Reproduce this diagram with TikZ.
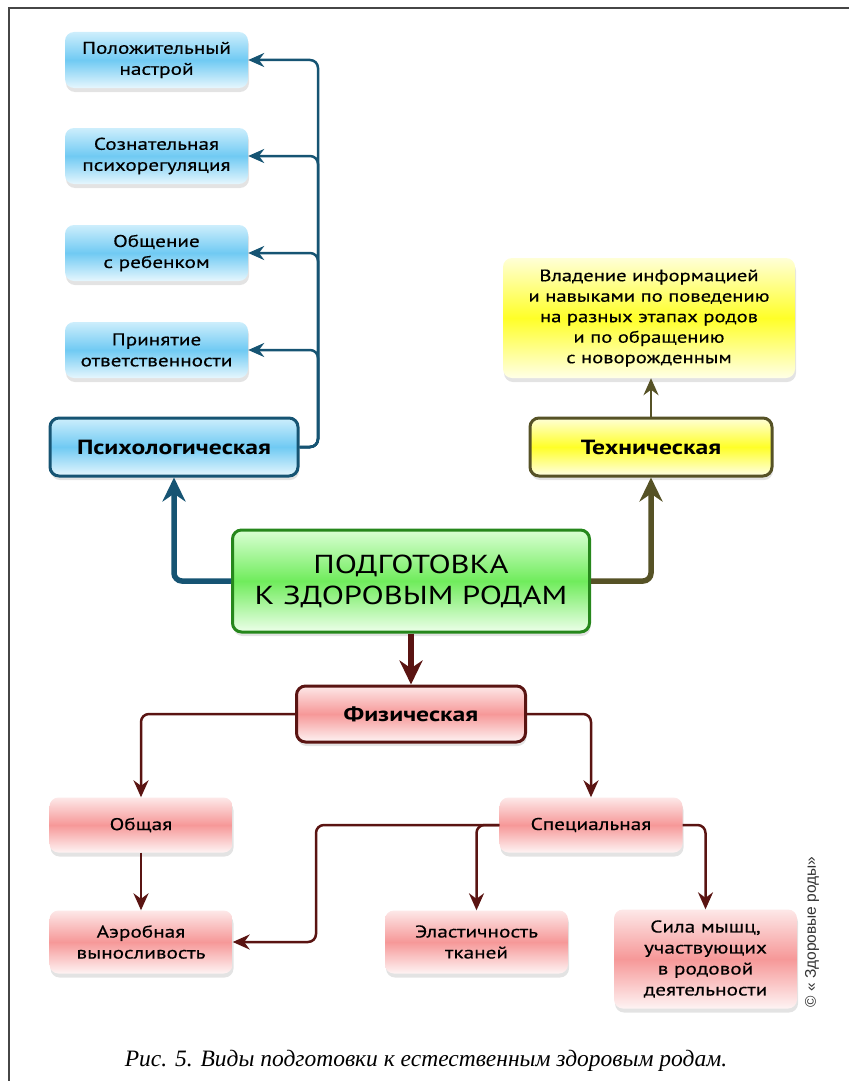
\documentclass[tikz,border=0pt]{standalone}
\usepackage{fontspec}
\setmainfont{Liberation Serif}
\newfontfamily\boxfont{PT Sans}[FakeStretch=1.25, FakeBold=0.4]
\newfontfamily\headfont{PT Sans}[FakeStretch=1.25]
\newfontfamily\signfont{Liberation Sans}
\usetikzlibrary{arrows.meta, shadows}
\definecolor{psyline}{RGB}{22,84,115}
\definecolor{psytop}{RGB}{205,238,252}
\definecolor{psymid}{RGB}{112,202,243}
\definecolor{techline}{RGB}{86,82,38}
\definecolor{techtop}{RGB}{255,255,215}
\definecolor{techmid}{RGB}{255,255,40}
\definecolor{mainline}{RGB}{38,135,28}
\definecolor{maintop}{RGB}{218,255,212}
\definecolor{mainmid}{RGB}{112,236,92}
\definecolor{physline}{RGB}{90,20,18}
\definecolor{phystop}{RGB}{253,232,232}
\definecolor{physmid}{RGB}{246,152,152}
\definecolor{framegray}{RGB}{70,70,70}
\tikzstyle{item} = [rectangle, rounded corners=9pt, align=center, inner sep=0pt,
  font=\boxfont\fontsize{17}{21}\selectfont,
  drop shadow={opacity=0.22, shadow xshift=1pt, shadow yshift=-4pt}]
\tikzstyle{psyitem} = [item, top color=psytop, bottom color=psytop!50!white, middle color=psymid,
  minimum width=183pt, minimum height=56pt]
\tikzstyle{physitem} = [item, top color=phystop, bottom color=phystop!50!white, middle color=physmid,
  minimum width=183pt]
\tikzstyle{head} = [item, line width=3pt, font=\headfont\bfseries\fontsize{20.5}{24}\selectfont,
  minimum height=58pt]
\tikzstyle{psyarrow} = [line width=2.5pt, ->, >={Stealth[length=16pt, width=14pt]},
  rounded corners=8pt, draw=psyline]
\tikzstyle{physarrow} = [line width=2.5pt, ->, >={Stealth[length=17pt, width=15pt]},
  rounded corners=8pt, draw=physline]
\tikzstyle{thickarrow} = [line width=5.5pt, ->, >={Stealth[length=24pt, width=23pt]},
  rounded corners=8pt]

\begin{document}
\begin{tikzpicture}[x=1pt, y=-1pt]
  \useasboundingbox (0,0) rectangle (849,1081);
  \draw[line width=1.5pt, framegray] (9,1081) -- (9,8) -- (849,8);
  % Draw nodes
  \node (p1)[psyitem] at (156.5,60) {Положительный\\настрой};
  \node (p2)[psyitem] at (156.5,156) {Сознательная\\психорегуляция};
  \node (p3)[psyitem] at (156.5,253) {Общение\\с ребенком};
  \node (p4)[psyitem] at (156.5,350) {Принятие\\ответственности};
  \node (psy)[head, draw=psyline, top color=psytop, bottom color=psytop!50!white, middle color=psymid,
              minimum width=248pt] at (174,447) {Психологическая};
  \node (info)[item, top color=techtop, bottom color=techtop!60!white, middle color=techmid,
               minimum width=292pt, minimum height=120pt, font=\boxfont\fontsize{16.5}{20.5}\selectfont]
               at (649,318) {Владение информацией\\и навыками по поведению\\на разных этапах родов\\и по обращению\\с новорожденным};
  \node (tech)[head, draw=techline, top color=techtop, bottom color=techtop!60!white, middle color=techmid,
               minimum width=242pt] at (651,447) {Техническая};
  \node (main)[item, line width=3pt, draw=mainline, top color=maintop, bottom color=maintop!50!white,
               middle color=mainmid, minimum width=357pt, minimum height=102pt,
               font=\headfont\fontsize{26}{31}\selectfont] at (411,581) {ПОДГОТОВКА\\К ЗДОРОВЫМ РОДАМ};
  \node (phys)[head, draw=physline, top color=phystop, bottom color=phystop!50!white, middle color=physmid,
               minimum width=229pt, minimum height=56pt] at (411,714) {Физическая};
  \node (general)[physitem, minimum height=55pt] at (141,825) {Общая};
  \node (special)[physitem, minimum height=55pt] at (591,825) {Специальная};
  \node (aerobic)[physitem, minimum height=63pt] at (141,942) {Аэробная\\выносливость};
  \node (elastic)[physitem, minimum height=63pt] at (476.5,942) {Эластичность\\тканей};
  \node (muscle)[physitem, minimum height=99pt] at (705.5,959) {Сила мышц,\\участвующих\\в родовой\\деятельности};
  \coordinate (psytrunk) at (318,60);
  \coordinate (spbend) at (316,825);
  \node (copyright)[rotate=90, text=black!80, font=\signfont\fontsize{15.5}{17}\selectfont]
       at (812,932) {© « Здоровые роды»};
  \node (caption)[font=\itshape\fontsize{23.5}{26}\selectfont] at (426,1061)
       {Рис. 5. Виды подготовки к естественным здоровым родам.};
  % Draw arrows
  \foreach \n in {p1,p2,p3,p4}
    \draw [psyarrow] (psy.east) -| (psytrunk |- \n.east) -- (\n.east);
  \draw [thickarrow, draw=psyline] (main.west) -| (psy.south);
  \draw [thickarrow, draw=techline] (main.east) -| (tech.south);
  \draw [line width=2.5pt, ->, >={Stealth[length=17pt, width=15pt]}, draw=techline]
        (tech.north) -- (tech.north |- info.south);
  \draw [thickarrow, draw=physline] (main.south) -- (phys.north);
  \draw [physarrow] (phys.west) -| (general.north);
  \draw [physarrow] (phys.east) -| (special.north);
  \draw [physarrow] (general.south) -- (aerobic.north);
  \draw [physarrow] (special.west) -- (spbend) |- (aerobic.east);
  \draw [physarrow] (special.west) -| (elastic.north);
  \draw [physarrow] (special.east) -| (muscle.north);
\end{tikzpicture}
\end{document}
